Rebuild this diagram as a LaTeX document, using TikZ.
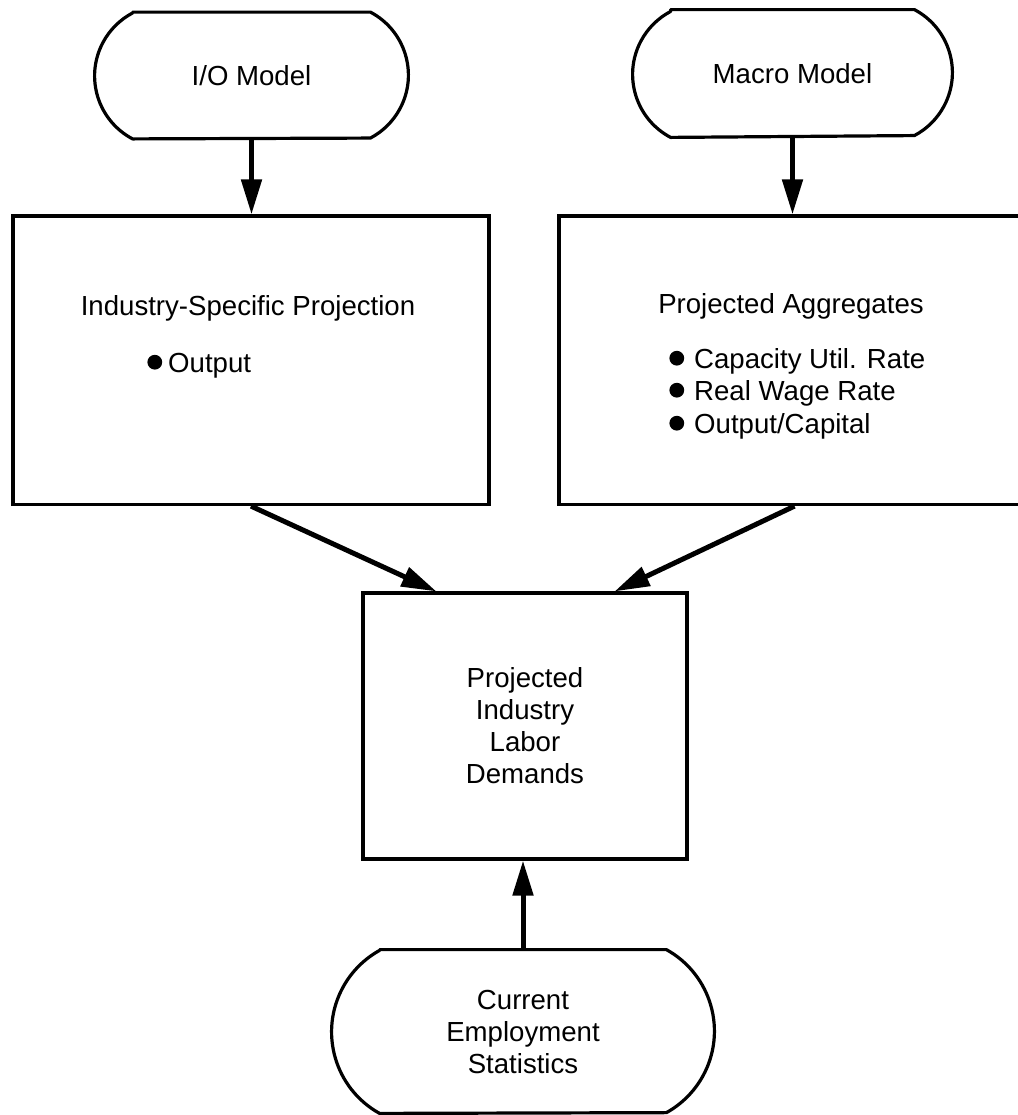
\documentclass[tikz,border=0pt]{standalone}
\usepackage{fontspec}
\setmainfont{Liberation Sans}
\usetikzlibrary{arrows.meta,calc}
\newcommand{\mainsize}{\fontsize{13.8pt}{16pt}\selectfont}
\newcommand{\bul}{\tikz[baseline=-4.9pt]\fill (0,0) circle[radius=3.7pt];}
\newcommand{\termpath}[4]{%
  \draw[termline] ($(#1.north west)+(#2,0)$) -- ($(#1.north east)+(-#2,0)$)
    arc[start angle=#4, end angle=-#4, radius=#3]
    -- ($(#1.south west)+(#2,0)$)
    arc[start angle=180+#4, end angle=180-#4, radius=#3] -- cycle;}
\begin{document}
\begin{tikzpicture}[x=0.5pt,y=0.5pt,
  termline/.style={line width=1.6pt, line join=round},
  boxstyle/.style={draw, line width=1.6pt, rectangle, inner sep=0pt},
  term/.style={inner sep=0pt, align=center, font=\mainsize},
  arr/.style={line width=2.5pt, -{Triangle[length=17.5pt,width=10pt]}},
  txt/.style={inner sep=0pt, font=\mainsize}]
\useasboundingbox (0,0) rectangle (1018,-1115);

\node[term, minimum width=156.5pt, minimum height=63pt] (io) at (251.5,-75.5) {I/O Model};
\node[term, minimum width=159.5pt, minimum height=63.5pt] (macro) at (792.5,-73.5) {Macro Model};
\node[boxstyle, minimum width=238pt, minimum height=144.25pt] (lbox) at (251,-360.25) {};
\node[boxstyle, minimum width=235.5pt, minimum height=144.25pt] (rbox) at (794.5,-360.25) {};
\node[boxstyle, minimum width=162pt, minimum height=133pt, align=center, font=\mainsize] (cbox) at (525,-726) {Projected\\Industry\\Labor\\Demands};
\node[term, minimum width=191pt, minimum height=81.5pt] (cem) at (523,-1031.5) {Current\\Employment\\Statistics};

\termpath{io}{19pt}{35.6pt}{62.2}
\termpath{macro}{19pt}{35.6pt}{62.2}
\termpath{cem}{24pt}{46.6pt}{61}

\node[txt, anchor=base] (lsub) at (248,-315) {Industry-Specific Projection};
\node[txt, anchor=base west] (lout) at (147,-372) {\bul\hspace{3pt}Output};
\node[txt, anchor=base] (rsub) at (791,-313) {Projected Aggregates};
\node[txt, anchor=base west] (r1) at (669,-368) {\bul\hspace{5pt}Capacity Util. Rate};
\node[txt, anchor=base west] (r2) at (669,-400) {\bul\hspace{5pt}Real Wage Rate};
\node[txt, anchor=base west] (r3) at (669,-433) {\bul\hspace{5pt}Output/Capital};

\draw[arr] (io.south) -- (io.south |- lbox.north);
\draw[arr] (macro.south) -- (macro.south |- rbox.north);
\draw[arr] (lbox.south) -- ($(cbox.north west)+(37.5pt,0)$);
\draw[arr] (rbox.south) -- ($(cbox.north east)+(-37pt,0)$);
\draw[arr] (cem.north) -- (cem.north |- cbox.south);
\end{tikzpicture}
\end{document}
